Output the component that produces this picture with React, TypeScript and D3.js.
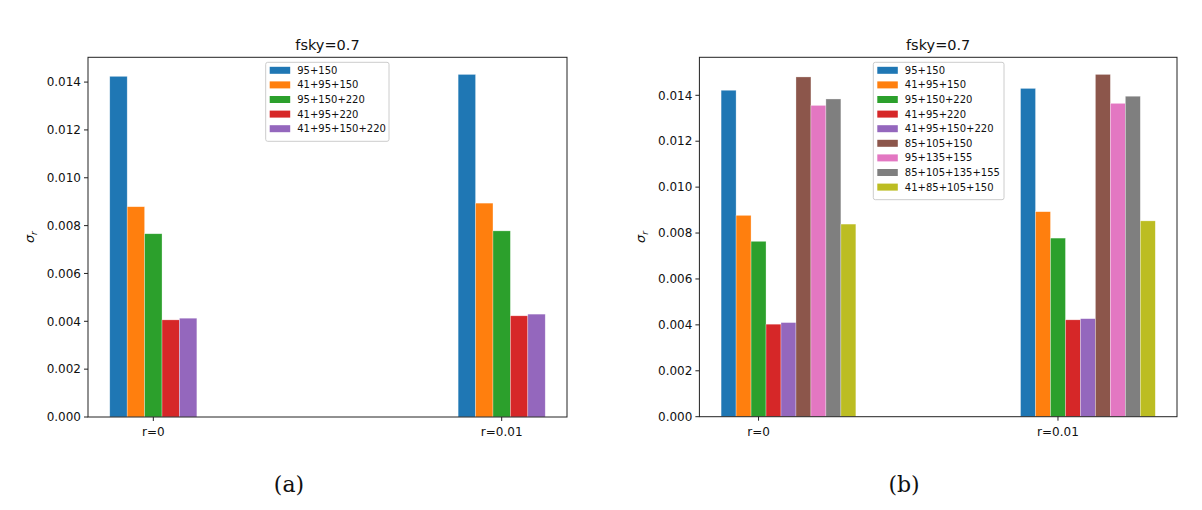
import React from "react";
import * as d3 from "d3";

const categories = ["r=0", "r=0.01"];
const seriesNamesA = ["95+150", "41+95+150", "95+150+220", "41+95+220", "41+95+150+220"];
const seriesNamesB = [
  "95+150", "41+95+150", "95+150+220", "41+95+220", "41+95+150+220",
  "85+105+150", "95+135+155", "85+105+135+155", "41+85+105+150",
];
const colors = ["#1f77b4", "#ff7f0e", "#2ca02c", "#d62728", "#9467bd", "#8c564b", "#e377c2", "#7f7f7f", "#bcbd22"];

// values per series: [r=0, r=0.01]
const valuesA = [
  [0.01424, 0.01432],
  [0.00879, 0.00894],
  [0.00766, 0.00778],
  [0.00406, 0.00423],
  [0.00413, 0.0043],
];
const valuesB = [
  [0.01422, 0.0143],
  [0.00877, 0.00893],
  [0.00764, 0.00778],
  [0.00403, 0.00422],
  [0.0041, 0.00427],
  [0.0148, 0.01491],
  [0.01356, 0.01365],
  [0.01384, 0.01396],
  [0.00839, 0.00853],
];
const yTicks = [0, 0.002, 0.004, 0.006, 0.008, 0.01, 0.012, 0.014];
const title = "fsky=0.7";
const captions = ["(a)", "(b)"];

const BAR_W = 0.05;
const FONT = "'DejaVu Sans', sans-serif";

type PanelProps = {
  left: number; right: number; top: number; bottom: number;
  names: string[]; values: number[][];
  legendX: number; legendW: number; caption: string; captionX: number;
};

function Panel(p: PanelProps) {
  const nS = p.values.length;
  // bars are offset as for 5 series (first 5 centered on the tick)
  const offsets = p.values.map((_, i) => (i - 2) * BAR_W);
  const xMin = -2.5 * BAR_W;
  const xMax = 1 + (nS - 2.5) * BAR_W;
  const pad = (xMax - xMin) * 0.05;
  const x = d3.scaleLinear().domain([xMin - pad, xMax + pad]).range([p.left, p.right]);
  const yMax = d3.max(p.values.flat())! * 1.05;
  const y = d3.scaleLinear().domain([0, yMax]).range([p.bottom, p.top]);
  const bw = x(BAR_W) - x(0);
  const rowH = 14.6;
  const legTop = p.top + 5;
  const legH = p.names.length * rowH + 6;
  return (
    <g>
      {p.values.map((vals, s) =>
        vals.map((v, c) => (
          <rect key={`${s}-${c}`} x={x(c + offsets[s] - BAR_W / 2)} y={y(v)} width={bw} height={y(0) - y(v)}
            fill={colors[s]} stroke="#ffffff" strokeOpacity={0.5} strokeWidth={0.6} />
        ))
      )}
      <rect x={p.left} y={p.top} width={p.right - p.left} height={p.bottom - p.top} fill="none" stroke="#222" strokeWidth={1} />
      {yTicks.map((t) => (
        <g key={t}>
          <line x1={p.left - 4} x2={p.left} y1={y(t)} y2={y(t)} stroke="#222" />
          <text x={p.left - 7} y={y(t)} dy="0.35em" textAnchor="end" fontSize={12} fontFamily={FONT} fill="#111">
            {t.toFixed(3)}
          </text>
        </g>
      ))}
      {categories.map((c, i) => (
        <g key={c}>
          <line x1={x(i)} x2={x(i)} y1={p.bottom} y2={p.bottom + 4} stroke="#222" />
          <text x={x(i)} y={p.bottom + 15} dy="0.35em" textAnchor="middle" fontSize={12} fontFamily={FONT} fill="#111">
            {c}
          </text>
        </g>
      ))}
      <text x={(p.left + p.right) / 2} y={p.top - 7} textAnchor="middle" fontSize={14.5} fontFamily={FONT} fill="#111">
        {title}
      </text>
      <text transform={`translate(${p.left - 54},${(p.top + p.bottom) / 2}) rotate(-90)`} textAnchor="middle"
        fontSize={13} fontFamily={FONT} fill="#111" fontStyle="italic">
        σ<tspan fontSize={9} dy="3">r</tspan>
      </text>
      <g>
        <rect x={p.legendX} y={legTop} width={p.legendW} height={legH} rx={2} fill="#fff" fillOpacity={0.8} stroke="#ccc" strokeWidth={1} />
        {p.names.map((n, i) => (
          <g key={n}>
            <rect x={p.legendX + 4} y={legTop + 4.5 + i * rowH} width={20.5} height={7} fill={colors[i]} />
            <text x={p.legendX + 31.5} y={legTop + 8 + i * rowH} dy="0.35em" fontSize={10} fontFamily={FONT} fill="#111">
              {n}
            </text>
          </g>
        ))}
      </g>
      <text x={p.captionX} y={484} dy="0.35em" textAnchor="middle" fontSize={22} fontFamily="'DejaVu Serif', serif" fill="#111">
        {p.caption}
      </text>
    </g>
  );
}

export default function App() {
  return (
    <svg width={1202} height={510} style={{ position: "absolute", left: 0, top: 0, background: "#fff" }}>
      <rect width={1202} height={510} fill="#fff" />
      <Panel left={88} right={567} top={57.3} bottom={417} names={seriesNamesA} values={valuesA}
        legendX={265.7} legendW={123.3} caption={captions[0]} captionX={289} />
      <Panel left={699.4} right={1177} top={57.3} bottom={416.7} names={seriesNamesB} values={valuesB}
        legendX={873.3} legendW={130.7} caption={captions[1]} captionX={904} />
    </svg>
  );
}
